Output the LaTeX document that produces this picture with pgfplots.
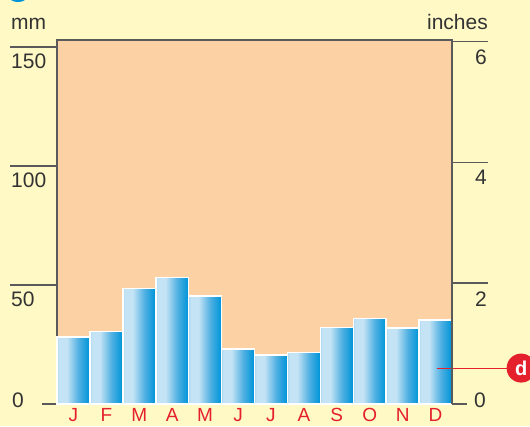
\documentclass[border=0pt]{standalone}
\usepackage{pgfplots}
\pgfplotsset{compat=1.18}
\usepackage{fontspec}
\setmainfont{Liberation Sans}
\definecolor{bgyellow}{HTML}{FFF9C6}
\definecolor{peach}{HTML}{FCD1A4}
\definecolor{axisgray}{HTML}{5A5A5A}
\definecolor{textgray}{HTML}{333333}
\definecolor{bardark}{HTML}{0095D9}
\definecolor{barmid}{HTML}{4FB0E2}
\definecolor{barlight}{HTML}{C4E3F5}
\definecolor{labelred}{HTML}{E3202B}
\pgfdeclarehorizontalshading{barshade}{100bp}{color(0bp)=(bardark); color(6bp)=(bardark); color(14bp)=(barmid); color(28bp)=(barlight); color(40bp)=(barlight); color(58bp)=(barmid); color(74bp)=(bardark); color(100bp)=(bardark)}
\pgfplotsset{mybar/.style={ybar, bar width=1, bar shift=0pt, draw=white, line width=1.5pt, shading=barshade}}

\begin{document}
\begin{tikzpicture}
\fill[bgyellow] (-57pt,-22pt) rectangle (473pt,404pt);
\fill[bardark] (-39pt,416pt) circle (14pt);
\node[anchor=base west, inner sep=0pt, textgray, font=\fontsize{21}{24}\selectfont] at (-46pt,374pt) {mm};
\node[anchor=base east, inner sep=0pt, textgray, font=\fontsize{21}{24}\selectfont] at (431pt,374pt) {inches};

\begin{axis}[
  at={(0pt,0pt)}, anchor=south west,
  scale only axis, width=395pt, height=364pt,
  xmin=0.5, xmax=12.5, ymin=0, ymax=153,
  axis background/.style={fill=peach},
  axis line style={draw=axisgray, line width=1.3pt},
  clip=false,
  /pgf/number format/assume math mode=true,
  xtick={1,...,12},
  xticklabels={J,F,M,A,M,J,J,A,S,O,N,D},
  xtick style={draw=none},
  xticklabel style={labelred, anchor=base, yshift=30pt, font=\fontsize{19}{22}\selectfont},
  ytick={50,100,150},
  ytick pos=left,
  tick align=outside,
  major tick length=47pt,
  ytick style={draw=axisgray, line width=1.3pt},
  yticklabel style={anchor=north west, inner sep=0pt, xshift=1pt, yshift=-7pt, textgray, font=\fontsize{21}{24}\selectfont},
  extra y ticks={0},
  extra y tick style={major tick length=15pt, yticklabel style={anchor=west, inner sep=0pt, xshift=-31pt, yshift=11pt}},
]
% monthly precipitation, mm
\addplot[mybar] coordinates {(1,28.2)};
\addplot[mybar] coordinates {(2,30.4)};
\addplot[mybar] coordinates {(3,48.6)};
\addplot[mybar] coordinates {(4,53.2)};
\addplot[mybar] coordinates {(5,45.4)};
\addplot[mybar] coordinates {(6,23.1)};
\addplot[mybar] coordinates {(7,20.6)};
\addplot[mybar] coordinates {(8,21.6)};
\addplot[mybar] coordinates {(9,32.2)};
\addplot[mybar] coordinates {(10,36.0)};
\addplot[mybar] coordinates {(11,31.9)};
\addplot[mybar] coordinates {(12,35.3)};
\draw[labelred, line width=1pt] (axis cs:12.04,15.1) -- (axis cs:14.2,15.1);
\node[circle, fill=labelred, minimum size=29pt, inner sep=0pt, text=white, font=\fontsize{20}{22}\selectfont\bfseries] at (axis cs:14.6,15.1) {d};
\end{axis}

\begin{axis}[
  at={(0pt,0pt)}, anchor=south west,
  scale only axis, width=395pt, height=364pt,
  xmin=0.5, xmax=12.5, ymin=0, ymax=6.0236,
  axis x line=none,
  axis y line*=right,
  axis line style={draw=axisgray, line width=1.3pt},
  /pgf/number format/assume math mode=true,
  ytick={2,4,6},
  tick align=outside,
  major tick length=36pt,
  ytick style={draw=axisgray, line width=1.3pt},
  yticklabel style={anchor=north east, inner sep=0pt, xshift=-1pt, yshift=-8pt, textgray, font=\fontsize{21}{24}\selectfont},
  extra y ticks={0},
  extra y tick style={major tick length=15pt, yticklabel style={anchor=east, inner sep=0pt, xshift=20pt, yshift=12pt}},
]
\end{axis}
\pgfresetboundingbox
\path[use as bounding box] (-57pt,-22pt) rectangle (473pt,404pt);
\end{tikzpicture}
\end{document}
